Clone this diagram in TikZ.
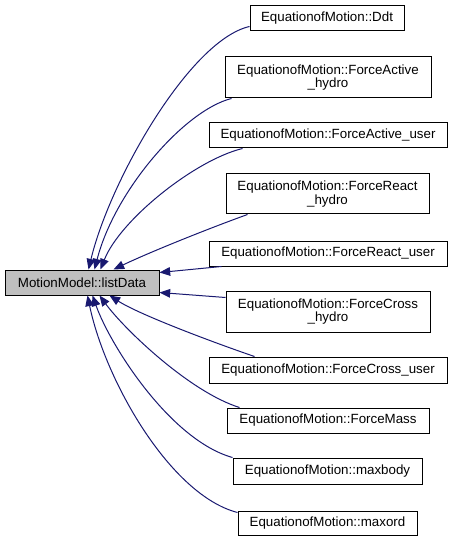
\documentclass[tikz,border=0pt]{standalone}
\usepackage{fontspec}
\setmainfont{Liberation Sans}
\usetikzlibrary{arrows.meta,calc}
\definecolor{edgeblue}{RGB}{25,25,112}
\definecolor{maingray}{RGB}{191,191,191}
\begin{document}
\begin{tikzpicture}[x=0.75pt,y=-0.75pt,
  box/.style={draw=black,line width=0.75pt,fill=white,inner sep=0pt,align=center,
    font=\fontsize{10}{10.2}\selectfont},
  edge/.style={draw=edgeblue,line width=0.75pt,{Triangle[length=8pt,width=6.5pt]}-}]
\useasboundingbox (0,0) rectangle (453,541);
\node[box,fill=maingray,minimum width=115.5pt,minimum height=18.75pt] (main) at (82,282.5) {MotionModel::listData};
\node[box,minimum width=115.5pt,minimum height=18.75pt] (ddt) at (327,18.5) {EquationofMotion::Ddt};
\node[box,minimum width=154.5pt,minimum height=30.75pt] (fah) at (328,77.5) {EquationofMotion::ForceActive\\\_hydro};
\node[box,minimum width=178.5pt,minimum height=18.75pt] (fau) at (328,135.5) {EquationofMotion::ForceActive\_user};
\node[box,minimum width=152.25pt,minimum height=30pt] (frh) at (327.5,194) {EquationofMotion::ForceReact\\\_hydro};
\node[box,minimum width=178.5pt,minimum height=18.75pt] (fru) at (328,253.5) {EquationofMotion::ForceReact\_user};
\node[box,minimum width=153pt,minimum height=30.75pt] (fch) at (328,311.5) {EquationofMotion::ForceCross\\\_hydro};
\node[box,minimum width=178.5pt,minimum height=19.5pt] (fcu) at (328,370) {EquationofMotion::ForceCross\_user};
\node[box,minimum width=151.5pt,minimum height=18.75pt] (fm) at (328,420.5) {EquationofMotion::ForceMass};
\node[box,minimum width=141.75pt,minimum height=19.5pt] (mb) at (327.5,471) {EquationofMotion::maxbody};
\node[box,minimum width=134.25pt,minimum height=18pt] (mo) at (327.5,523.5) {EquationofMotion::maxord};
% connectors
\draw[edge] ($(main.north west)+(84,0)$) .. controls (110,180) and (190,40) .. ($(ddt.south west)+(0,-5)$);
\draw[edge] ($(main.north west)+(90,0)$) .. controls (115,190) and (185,110) .. ($(fah.south west)+(7,0)$);
\draw[edge] ($(main.north west)+(96,0)$) .. controls (120,220) and (195,160) .. ($(fau.south west)+(34,0)$);
\draw[edge] ($(main.north west)+(109,0)$) .. controls (150,252) and (210,228) .. ($(frh.south west)+(22,0)$);
\draw[edge] ($(main.north east)+(0,3)$) -- ($(fru.south west)+(13,0)$);
\draw[edge] ($(main.south east)+(0,-3)$) -- ($(fch.north west)+(0,7)$);
\draw[edge] ($(main.south west)+(105,0)$) .. controls (140,315) and (215,343) .. ($(fcu.north west)+(46,0)$);
\draw[edge] ($(main.south west)+(95,0)$) .. controls (125,330) and (190,392) .. ($(fm.north west)+(13,0)$);
\draw[edge] ($(main.south west)+(88,0)$) .. controls (110,345) and (170,440) .. (mb.north west);
\draw[edge] ($(main.south west)+(83,0)$) .. controls (105,380) and (170,495) .. ($(mo.north west)+(0,1.5)$);
\end{tikzpicture}
\end{document}
